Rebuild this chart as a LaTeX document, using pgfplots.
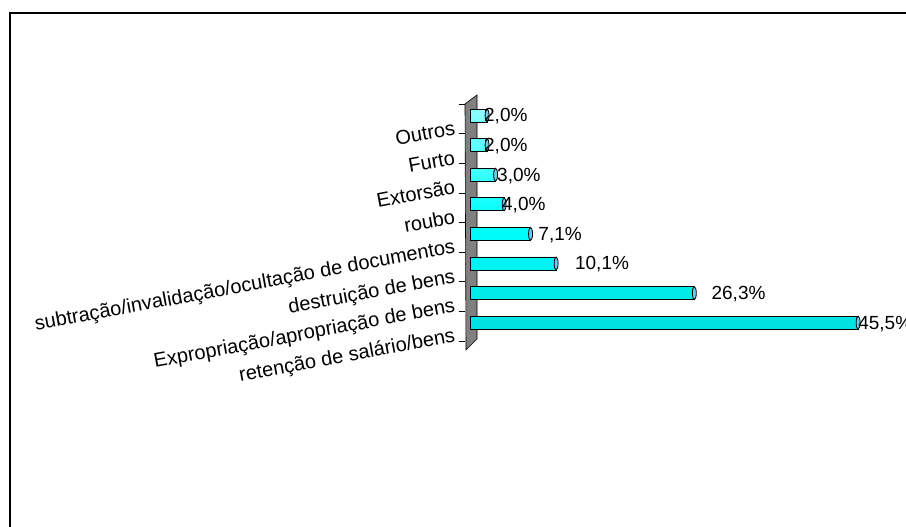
\documentclass[border=0pt]{standalone}
\usepackage{pgfplots}
\pgfplotsset{compat=1.18}
\usepackage{fontspec}
\setmainfont{Liberation Sans}
\begin{document}
\begin{tikzpicture}[x=1pt,y=1pt]
\useasboundingbox (0,0) rectangle (906,527);
% frame (only left and top are inside the picture)
\draw[line width=2pt] (10,-5) -- (10,514) -- (912,514);
% grey back wall
\filldraw[fill=gray, draw=black, line width=0.6pt]
  (465,{527-104}) -- (477,{527-95}) -- (477,{527-339}) -- (466,{527-350}) -- cycle;
\begin{axis}[
  at={(465pt,186pt)}, anchor=south west,
  scale only axis, width=431.5pt, height=236.8pt,
  xmin=-0.586, xmax=50, ymin=-0.5, ymax=7.5,
  clip=false,
  axis lines*=left,
  axis line style={draw=none},
  xtick=\empty,
  ytick={-0.5,0.5,1.5,2.5,3.5,4.5,5.5,6.5,7.5},
  yticklabels={retenção de salário/bens, Expropriação/apropriação de bens,
    destruição de bens, subtração/invalidação/ocultação de documentos,
    roubo, Extorsão, Furto, Outros, {}},
  tick align=outside,
  major tick length=6pt,
  ytick style={black, line width=0.8pt},
  yticklabel style={rotate=10.5, anchor=base east, inner sep=0pt, xshift=-3pt,
    font=\fontsize{20}{22}\selectfont},
]
% bars
\addplot[xbar, bar width=13pt, bar shift=3.5pt, draw=black, line width=0.8pt,
  top color=cyan!45!white, bottom color=cyan!88!black, middle color=cyan]
  coordinates {(45.5,0) (26.3,1) (10.1,2) (7.1,3) (4.0,4) (3.0,5) (2.0,6) (2.0,7)};
% cylinder caps
\addplot[only marks, mark=*, mark size=6.5pt,
  mark options={xscale=0.3, fill=cyan!60!white, draw=black, line width=0.8pt}]
  coordinates {(45.5,0.118) (26.3,1.118) (10.1,2.118) (7.1,3.118) (4.0,4.118) (3.0,5.118) (2.0,6.118) (2.0,7.118)};
% value labels
\addplot[only marks, mark=none, nodes near coords, point meta=explicit symbolic,
  nodes near coords style={anchor=west, inner sep=0pt, yshift=2.5pt,
    font=\fontsize{19}{22}\selectfont}]
  coordinates {(45.5,0)[45,5\%] (28.3,1)[26,3\%] (12.3,2)[10,1\%] (8.0,3)[7,1\%]
    (3.75,4)[4,0\%] (3.17,5)[3,0\%] (1.64,6)[2,0\%] (1.64,7)[2,0\%]};
\end{axis}
\end{tikzpicture}
\end{document}
